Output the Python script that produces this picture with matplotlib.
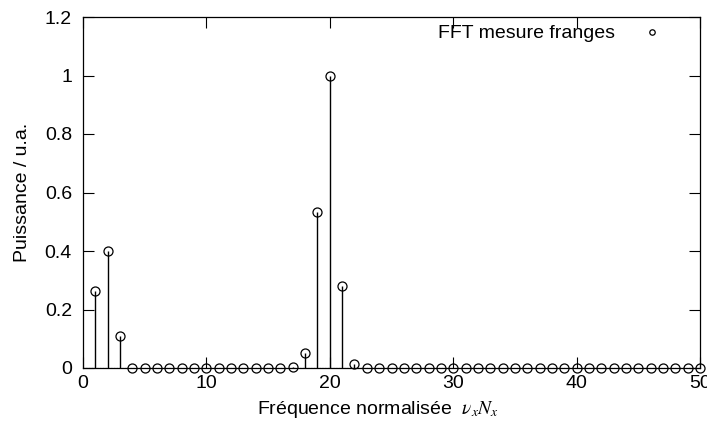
import matplotlib
matplotlib.use("Agg")
import matplotlib.pyplot as plt
from matplotlib.ticker import FuncFormatter

# donnees
freq = list(range(1, 51))
puissance = [0.263, 0.400, 0.110] + [0.0] * 13 + [0.003, 0.050, 0.535, 1.000, 0.280, 0.015] + [0.0] * 28
x_ticks = [0, 10, 20, 30, 40, 50]
y_ticks = [0, 0.2, 0.4, 0.6, 0.8, 1.0, 1.2]

plt.rcParams['font.family'] = ['Liberation Sans', 'DejaVu Sans']
plt.rcParams['mathtext.fontset'] = 'stix'
fs = 14

fig = plt.figure(figsize=(7.07, 4.26), dpi=100)
ax = fig.add_axes([83 / 707, 1 - 368 / 426, 617 / 707, 351 / 426])

ax.axhline(0, color='black', lw=0.8, ls=(0, (1, 1.5)), zorder=1)
ax.vlines(freq, 0, puissance, color='black', lw=1.0, zorder=2)
ax.plot(freq, puissance, 'o', mfc='none', mec='black', ms=6.5, mew=0.9,
        clip_on=False, zorder=3, label='FFT mesure franges')

ax.set_xlim(0, 50)
ax.set_ylim(0, 1.2)
ax.set_xticks(x_ticks)
ax.set_yticks(y_ticks)
ax.yaxis.set_major_formatter(FuncFormatter(lambda v, p: f'{v:g}'))
ax.tick_params(direction='in', top=True, right=True, length=8, width=0.8,
               labelsize=fs)
ax.tick_params(axis='y', pad=8)
ax.tick_params(axis='x', pad=5)
for s in ax.spines.values():
    s.set_linewidth(0.9)

ax.set_xlabel(r'Fréquence normalisée  $\nu_x N_x$', fontsize=fs)
ax.xaxis.set_label_coords(0.478, -0.088)
ax.set_ylabel('Puissance / u.a.', fontsize=fs, labelpad=10)

leg = ax.legend(loc='upper right', bbox_to_anchor=(0.953, 0.978), frameon=False,
                fontsize=fs, markerfirst=False, handlelength=2.0, handletextpad=0.9,
                borderaxespad=0, borderpad=0, markerscale=0.6)

fig.savefig('out.png', dpi=100)
